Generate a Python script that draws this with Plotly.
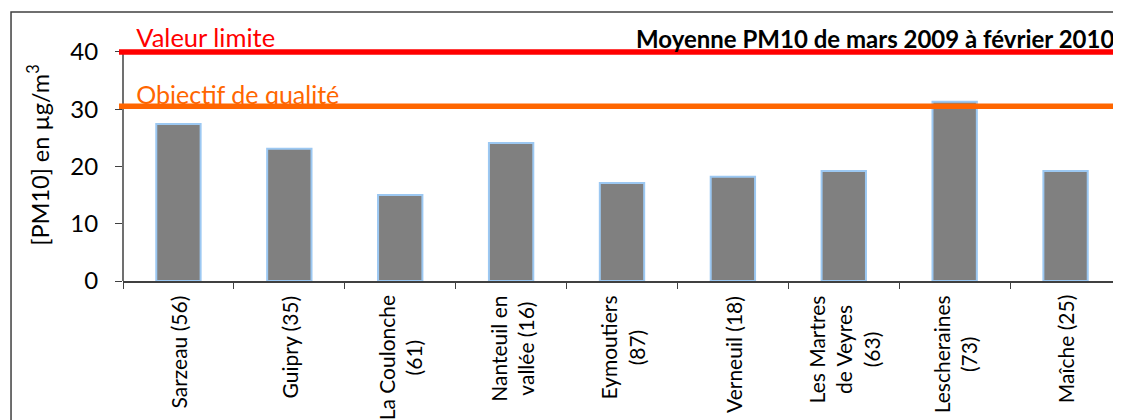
import plotly.graph_objects as go

# ---- data ----
stations = ["Sarzeau (56)", "Guipry (35)", "La Coulonche<br>(61)", "Nanteuil en<br>vallée (16)",
            "Eymoutiers<br>(87)", "Verneuil (18)", "Les Martres<br>de Veyres<br>(63)",
            "Lescheraines<br>(73)", "Maîche (25)"]
pm10_mean = [27.4, 23.1, 15.0, 24.1, 17.1, 18.2, 19.2, 31.3, 19.2]
limit_value = 40
quality_objective = 30.5
y_ticks = [0, 10, 20, 30, 40]
title_text = "Moyenne PM10 de mars 2009 à février 2010"
limit_label = "Valeur limite"
objective_label = "Objectif de qualité"

FONT = "Lato"
AXIS_COLOR = "#404040"
idx = list(range(len(stations)))

fig = go.Figure()
fig.add_trace(go.Bar(
    x=idx, y=pm10_mean, width=0.4,
    marker=dict(color="#808080", line=dict(color="#9CC8F2", width=2)),
    showlegend=False, hoverinfo="skip"))

# labels of the reference lines (drawn before the lines so the lines overlap them)
fig.add_trace(go.Scatter(
    x=[-0.38], y=[42.05], mode="text", text=[limit_label], textposition="middle right",
    textfont=dict(family=FONT, size=25.5, color="#FF0000"),
    cliponaxis=False, showlegend=False, hoverinfo="skip"))
fig.add_trace(go.Scatter(
    x=[-0.38], y=[31.95], mode="text", text=[objective_label], textposition="middle right",
    textfont=dict(family=FONT, size=25, color="#FF6600"),
    cliponaxis=False, showlegend=False, hoverinfo="skip"))

# y axis line (stops at 40)
fig.add_shape(type="line", xref="paper", yref="y", x0=0, x1=0, y0=0, y1=limit_value,
              line=dict(color=AXIS_COLOR, width=1.5), layer="above")

fig.add_shape(type="line", xref="paper", yref="y", x0=-0.004, x1=1, y0=limit_value, y1=limit_value,
              line=dict(color="#FF0000", width=5.5), layer="above")
fig.add_shape(type="line", xref="paper", yref="y", x0=-0.004, x1=1, y0=quality_objective, y1=quality_objective,
              line=dict(color="#FF6600", width=5.5), layer="above")

# outer chart frame
fig.add_shape(type="rect", xref="paper", yref="paper", x0=-0.1122, x1=0.9975, y0=-0.75, y1=1.0675,
              line=dict(color=AXIS_COLOR, width=1.5), fillcolor="rgba(0,0,0,0)", layer="above")

# title
fig.add_annotation(text="<b>" + title_text + "</b>", xref="paper", yref="paper", x=0.995, y=0.962,
                   xanchor="right", yanchor="middle", showarrow=False,
                   font=dict(family=FONT, size=24, color="black"))

# category labels
for i, s in enumerate(stations):
    fig.add_annotation(text=s, x=i, xref="x", yref="paper", y=-0.05, yanchor="top", xanchor="center",
                       textangle=-90, align="center", showarrow=False,
                       font=dict(family=FONT, size=21, color="black"))

fig.update_layout(
    width=1113, height=412,
    margin=dict(l=115, r=0, t=21, b=139, autoexpand=False),
    paper_bgcolor="white", plot_bgcolor="white",
    font=dict(family=FONT, color="black"),
    bargap=0.6,
    xaxis=dict(range=[-0.5, 8.5], tickvals=[i - 0.5 for i in range(len(stations) + 1)],
               showticklabels=False, ticks="outside", ticklen=6, tickcolor=AXIS_COLOR,
               showline=True, linecolor=AXIS_COLOR, linewidth=1.5, showgrid=False, zeroline=False,
               fixedrange=True),
    yaxis=dict(range=[0, 44], tickvals=y_ticks, ticks="outside", ticklen=7, tickcolor=AXIS_COLOR,
               showline=False, showgrid=False, zeroline=False,
               tickfont=dict(family=FONT, size=24, color="black"), ticklabelstandoff=12,
               title=dict(text="[PM10] en µg/m<sup>3</sup>", font=dict(family=FONT, size=23.5, color="black"),
                          standoff=14),
               automargin=False),
)

fig.write_html("out.html")
